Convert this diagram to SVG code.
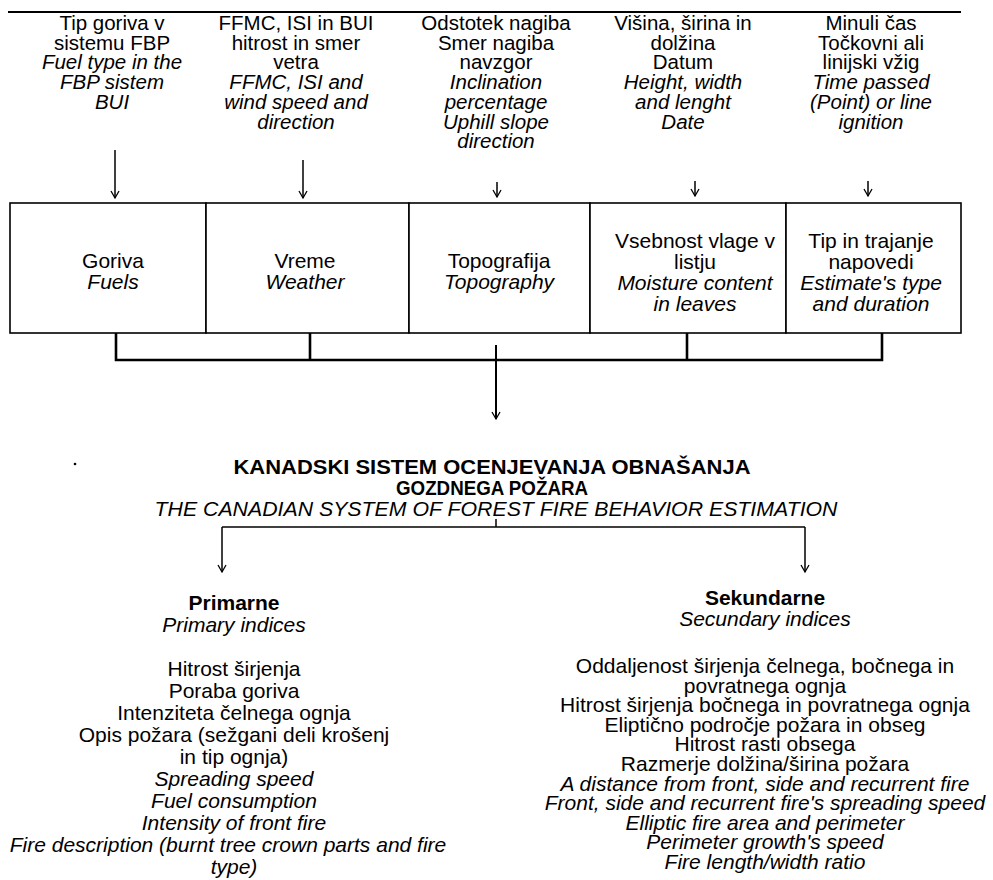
<svg xmlns="http://www.w3.org/2000/svg" width="993" height="880" viewBox="0 0 993 880">
<defs>
<marker id="ah" viewBox="-8 -5 10 10" refX="0" refY="0" markerWidth="10" markerHeight="10" orient="auto" markerUnits="userSpaceOnUse">
<path d="M-7,-4 L0,0 L-7,4" fill="none" stroke="#000" stroke-width="1.3"/>
</marker>
<style>
text{font-family:"Liberation Sans",Arial,sans-serif;fill:#000;text-anchor:middle}
.t{font-size:20.5px}
.b{font-size:21px}
.s{font-size:21px}
.i{font-style:italic}
.bold{font-weight:bold}
.box{fill:#fff;stroke:#000;stroke-width:1.6}
.ln{fill:none;stroke:#000;stroke-width:1.5}
.br{fill:none;stroke:#000;stroke-width:2.6}
.ar{fill:none;stroke:#000;stroke-width:1.5;marker-end:url(#ah)}
</style>
</defs>
<rect width="993" height="880" fill="#fff"/>
<line x1="8" y1="12" x2="961" y2="12" stroke="#000" stroke-width="2"/>

<g id="in-fuels" class="t">
<text x="112" y="30">Tip goriva v</text>
<text x="112" y="49.7">sistemu FBP</text>
<text x="112" y="69.4" class="i">Fuel type in the</text>
<text x="112" y="89.1" class="i">FBP sistem</text>
<text x="112" y="108.8" class="i">BUI</text>
</g>
<g id="in-weather" class="t">
<text x="296" y="30">FFMC, ISI in BUI</text>
<text x="296" y="49.7">hitrost in smer</text>
<text x="296" y="69.4">vetra</text>
<text x="296" y="89.1" class="i">FFMC, ISI and</text>
<text x="296" y="108.8" class="i">wind speed and</text>
<text x="296" y="128.5" class="i">direction</text>
</g>
<g id="in-topo" class="t">
<text x="496" y="30">Odstotek nagiba</text>
<text x="496" y="49.7">Smer nagiba</text>
<text x="496" y="69.4">navzgor</text>
<text x="496" y="89.1" class="i">Inclination</text>
<text x="496" y="108.8" class="i">percentage</text>
<text x="496" y="128.5" class="i">Uphill slope</text>
<text x="496" y="148.2" class="i">direction</text>
</g>
<g id="in-moist" class="t">
<text x="683" y="30">Višina, širina in</text>
<text x="683" y="49.7">dolžina</text>
<text x="683" y="69.4">Datum</text>
<text x="683" y="89.1" class="i">Height, width</text>
<text x="683" y="108.8" class="i">and lenght</text>
<text x="683" y="128.5" class="i">Date</text>
</g>
<g id="in-time" class="t">
<text x="871" y="30">Minuli čas</text>
<text x="871" y="49.7">Točkovni ali</text>
<text x="871" y="69.4">linijski vžig</text>
<text x="871" y="89.1" class="i">Time passed</text>
<text x="871" y="108.8" class="i">(Point) or line</text>
<text x="871" y="128.5" class="i">ignition</text>
</g>

<g id="box-fuels" class="b">
<rect class="box" x="10" y="203" width="196" height="130"/>
<text x="113" y="268">Goriva</text>
<text x="113" y="289" class="i">Fuels</text>
</g>
<g id="box-weather" class="b">
<rect class="box" x="206" y="203" width="203" height="130"/>
<text x="305" y="268">Vreme</text>
<text x="305" y="289" class="i">Weather</text>
</g>
<g id="box-topo" class="b">
<rect class="box" x="409" y="203" width="181" height="130"/>
<text x="499" y="268">Topografija</text>
<text x="499" y="289" class="i">Topography</text>
</g>
<g id="box-moist" class="b">
<rect class="box" x="590" y="203" width="196" height="130"/>
<text x="695" y="248">Vsebnost vlage v</text>
<text x="695" y="269">listju</text>
<text x="695" y="290" class="i">Moisture content</text>
<text x="695" y="311" class="i">in leaves</text>
</g>
<g id="box-time" class="b">
<rect class="box" x="786" y="203" width="175" height="130"/>
<text x="871" y="248">Tip in trajanje</text>
<text x="871" y="269">napovedi</text>
<text x="871" y="290" class="i">Estimate's type</text>
<text x="871" y="311" class="i">and duration</text>
</g>

<g id="title" class="s">
<text x="492" y="474" class="bold" textLength="517" lengthAdjust="spacingAndGlyphs">KANADSKI SISTEM OCENJEVANJA OBNAŠANJA</text>
<text x="492" y="495" class="bold" textLength="192" lengthAdjust="spacingAndGlyphs">GOZDNEGA POŽARA</text>
<text x="496" y="516" class="i" textLength="683" lengthAdjust="spacingAndGlyphs">THE CANADIAN SYSTEM OF FOREST FIRE BEHAVIOR ESTIMATION</text>
</g>
<circle cx="75" cy="464" r="1.3" fill="#000"/>

<g id="primary" class="s">
<text x="234" y="610" class="bold">Primarne</text>
<text x="234" y="632" class="i">Primary indices</text>
<text x="234" y="676">Hitrost širjenja</text>
<text x="234" y="698">Poraba goriva</text>
<text x="234" y="720">Intenziteta čelnega ognja</text>
<text x="234" y="742">Opis požara (sežgani deli krošenj</text>
<text x="234" y="764">in tip ognja)</text>
<text x="234" y="786" class="i">Spreading speed</text>
<text x="234" y="808" class="i">Fuel consumption</text>
<text x="234" y="830" class="i">Intensity of front fire</text>
<text x="228" y="852" class="i">Fire description (burnt tree crown parts and fire</text>
<text x="234" y="874" class="i">type)</text>
</g>
<g id="secondary" class="s">
<text x="765" y="605" class="bold">Sekundarne</text>
<text x="765" y="626" class="i">Secundary indices</text>
<text x="765" y="673">Oddaljenost širjenja čelnega, bočnega in</text>
<text x="765" y="692.6">povratnega ognja</text>
<text x="765" y="712.2">Hitrost širjenja bočnega in povratnega ognja</text>
<text x="765" y="731.8">Eliptično področje požara in obseg</text>
<text x="765" y="751.4">Hitrost rasti obsega</text>
<text x="765" y="771">Razmerje dolžina/širina požara</text>
<text x="765" y="790.6" class="i">A distance from front, side and recurrent fire</text>
<text x="765" y="810.2" class="i">Front, side and recurrent fire's spreading speed</text>
<text x="765" y="829.8" class="i">Elliptic fire area and perimeter</text>
<text x="765" y="849.4" class="i">Perimeter growth's speed</text>
<text x="765" y="869" class="i">Fire length/width ratio</text>
</g>

<g id="connectors">
<line class="ar" x1="115" y1="150" x2="115" y2="198"/>
<line class="ar" x1="303" y1="160" x2="303" y2="198"/>
<line class="ar" x1="497" y1="182" x2="497" y2="197"/>
<line class="ar" x1="695" y1="181" x2="695" y2="196"/>
<line class="ar" x1="868" y1="181" x2="868" y2="196"/>
<polyline class="br" points="116,333 116,360 882,360 882,333"/>
<line class="br" x1="310" y1="333" x2="310" y2="360"/>
<line class="br" x1="687" y1="333" x2="687" y2="360"/>
<line class="ar" x1="496" y1="345" x2="496" y2="419" style="stroke-width:2"/>
<line class="ln" x1="496" y1="519" x2="496" y2="527"/>
<line class="ln" x1="222" y1="527" x2="805" y2="527"/>
<line class="ar" x1="222" y1="527" x2="222" y2="572"/>
<line class="ar" x1="805" y1="527" x2="805" y2="572"/>
</g>
</svg>
